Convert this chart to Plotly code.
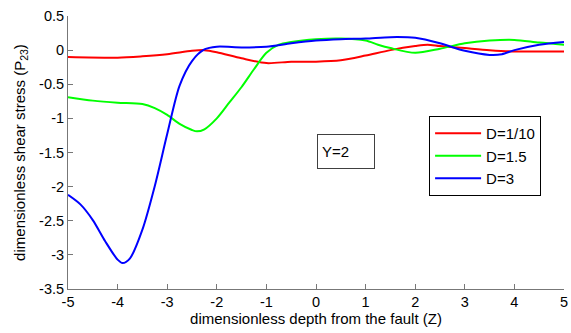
import plotly.graph_objects as go

# Shear stress profiles along the depth coordinate Z for three values of D
z_red = [-5, -4, -3.5, -3, -2.5, -2.25, -2, -1.5, -1, -0.5, 0, 0.5, 1, 1.5, 2, 2.25, 2.5, 3, 3.5, 4, 4.5, 5]
p_red = [-0.1, -0.11, -0.09, -0.06, -0.01, 0.0, -0.03, -0.12, -0.19, -0.17, -0.17, -0.15, -0.08, 0.0, 0.06, 0.08, 0.06, 0.03, 0.0, -0.02, -0.02, -0.02]

z_green = [-5, -4.5, -4, -3.5, -3.25, -3, -2.75, -2.5, -2.4, -2.25, -2, -1.75, -1.5, -1.25, -1,
           -0.75, -0.5, 0, 0.5, 1, 1.25, 1.5, 2, 2.5, 3, 3.5, 4, 4.5, 5]
p_green = [-0.69, -0.74, -0.77, -0.79, -0.85, -0.95, -1.08, -1.17, -1.19, -1.16, -1.0, -0.77, -0.54, -0.28, -0.04,
           0.08, 0.12, 0.16, 0.17, 0.14, 0.08, 0.03, -0.04, 0.02, 0.1, 0.14, 0.15, 0.11, 0.08]

z_blue = [-5, -4.75, -4.5, -4.25, -4, -3.9, -3.75, -3.5, -3.25, -3, -2.75, -2.5, -2.25, -2, -1.5, -1,
          -0.5, 0, 0.5, 1, 1.5, 2, 2.5, 3, 3.5, 3.75, 4, 4.5, 5]
p_blue = [-2.12, -2.26, -2.49, -2.8, -3.07, -3.12, -3.05, -2.63, -1.99, -1.23, -0.52, -0.16, 0.01, 0.05, 0.04, 0.05,
          0.1, 0.14, 0.16, 0.17, 0.19, 0.18, 0.1, -0.01, -0.07, -0.06, 0.0, 0.08, 0.12]

series_names = ["D=1/10", "D=1.5", "D=3"]
series_colors = ["#ff0000", "#00ff00", "#0000ff"]

x_ticks = [-5, -4, -3, -2, -1, 0, 1, 2, 3, 4, 5]
y_ticks = [0.5, 0, -0.5, -1, -1.5, -2, -2.5, -3, -3.5]

FONT = "Liberation Sans, Arial, sans-serif"

fig = go.Figure()
for i, (zs, ps) in enumerate([(z_red, p_red), (z_green, p_green), (z_blue, p_blue)]):
    fig.add_trace(go.Scatter(
        x=zs, y=ps, mode="lines", name=series_names[i],
        legendgroup=f"g{i}",
        line=dict(color=series_colors[i], width=2, shape="spline", smoothing=0.8),
    ))

axis_common = dict(
    showline=True, linecolor="#777777", linewidth=1,
    ticks="inside", ticklen=5, tickcolor="#777777",
    showgrid=False, zeroline=False, mirror=False,
    ticklabeloverflow="allow",
    tickfont=dict(family=FONT, size=14.5, color="#000000"),
)

fig.update_layout(
    width=571, height=333,
    margin=dict(l=68, r=3, t=16, b=44),
    plot_bgcolor="white", paper_bgcolor="white",
    font=dict(family=FONT, size=15, color="#000000"),
    xaxis=dict(range=[-5, 5], tickvals=x_ticks, ticktext=[str(v) for v in x_ticks],
               title=dict(text="dimensionless depth from the fault (Z)", font=dict(size=15), standoff=2),
               **axis_common),
    yaxis=dict(range=[-3.5, 0.5], tickvals=y_ticks, ticktext=[("%g" % v) for v in y_ticks],
               title=dict(text="dimensionless shear stress (P<sub>23</sub>)", font=dict(size=15), standoff=9),
               **axis_common),
    legend=dict(
        x=0.728, y=0.634, xanchor="left", yanchor="top",
        bordercolor="#000000", borderwidth=1, bgcolor="white",
        font=dict(family=FONT, size=15), tracegroupgap=0,
        itemwidth=46,
    ),
    showlegend=True,
)

fig.add_annotation(
    x=0.61, y=-1.48, xref="x", yref="y", text="Y=2", showarrow=False,
    font=dict(family=FONT, size=15), align="left",
    bordercolor="#404040", borderwidth=1, borderpad=4, width=48, height=25, bgcolor="white",
)

fig.write_html("out.html")
